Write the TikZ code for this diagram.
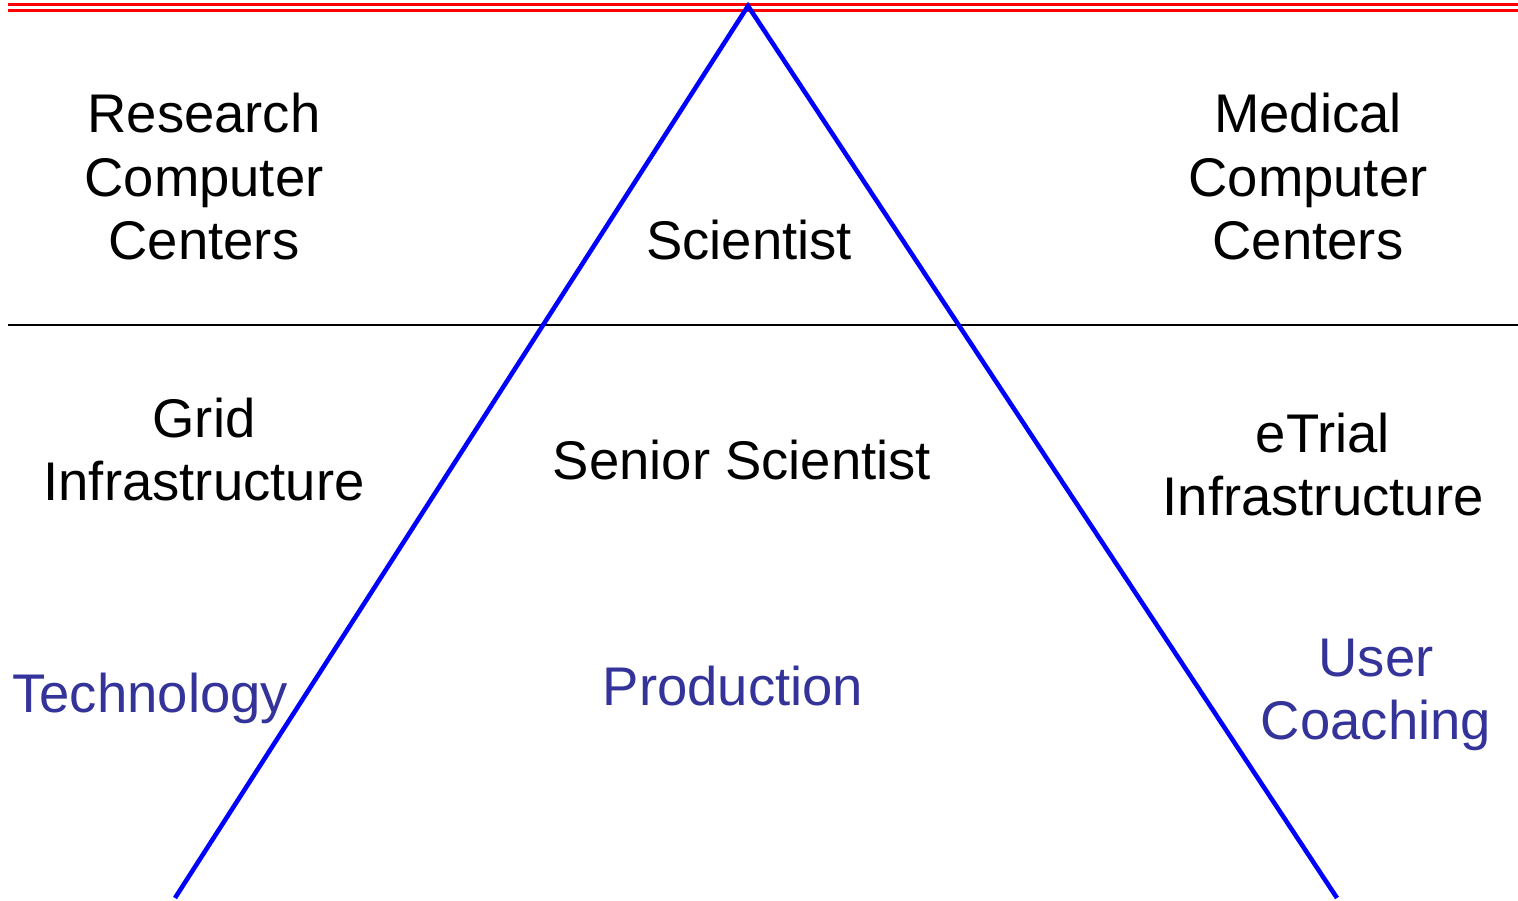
\documentclass[tikz,border=0pt]{standalone}
\usepackage{fontspec}
\setmainfont{Liberation Sans}
\usepackage{tikz}

\begin{document}
\begin{tikzpicture}[x=0.02cm, y=-0.02cm]
    \tikzset{label/.style={align=center, inner sep=0pt, anchor=base,
      font=\fontsize{31}{36.4}\selectfont}}
    \tikzset{role/.style={label, text={rgb,255:red,51;green,51;blue,153}}}
    \tikzset{rule/.style={draw=red, line width=1.6pt}}

    \useasboundingbox (0, 0) rectangle (1518, 901);

    % Rules
    \path (8, 4.3) coordinate (t1a);
    \path (1518, 4.3) coordinate (t1b);
    \path (8, 10.3) coordinate (t2a);
    \path (1518, 10.3) coordinate (t2b);
    \path (8, 325) coordinate (ma);
    \path (1518, 325) coordinate (mb);
    \draw [rule] (t1a) -- (t1b);
    \draw [rule] (t2a) -- (t2b);
    \draw [line width=0.9pt] (ma) -- (mb);

    % Pyramid
    \path (748, 6) coordinate (top);
    \path (175, 898) coordinate (left);
    \path (1337, 898) coordinate (right);
    \draw [blue, line width=2.6pt] (left) -- (top) -- (right);

    % Upper row
    \node [label] (rcc) at (204, 260) {Research\\Computer\\Centers};
    \node [label] (sci) at (749, 260) {Scientist};
    \node [label] (mcc) at (1308, 260) {Medical\\Computer\\Centers};

    % Lower row
    \node [label] (grid) at (204, 501) {Grid\\Infrastructure};
    \node [label] (senior) at (742, 480) {Senior Scientist};
    \node [label] (etrial) at (1323, 516) {eTrial\\Infrastructure};

    % Roles
    \node [role, anchor=base west] (tech) at (12, 713) {Technology};
    \node [role] (prod) at (733, 705) {Production};
    \node [role] (coach) at (1376, 740) {User\\Coaching};
\end{tikzpicture}
\end{document}
